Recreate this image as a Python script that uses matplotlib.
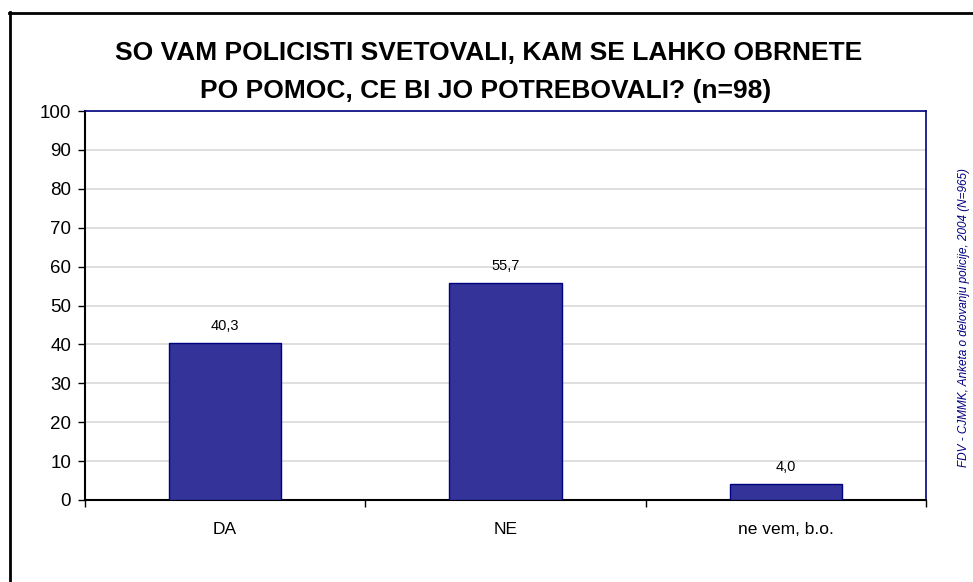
import matplotlib
matplotlib.use("Agg")
import matplotlib.pyplot as plt
import numpy as np
from matplotlib.lines import Line2D

categories = ["DA", "NE", "ne vem, b.o."]
values = [40.3, 55.7, 4.0]
value_labels = ["40,3", "55,7", "4,0"]
yticks = [0, 10, 20, 30, 40, 50, 60, 70, 80, 90, 100]

plt.rcParams['font.family'] = ['Liberation Sans', 'DejaVu Sans']

fig = plt.figure(figsize=(9.73, 5.82), dpi=100)
ax = fig.add_axes([85/973, 1-500/582, (926-85)/973, (500-111)/582])

x = np.arange(len(categories))
ax.bar(x, values, width=0.4, color="#333399", edgecolor="#000080", linewidth=1, zorder=3)
for xi, v, lab in zip(x, values, value_labels):
    ax.text(xi, v + 2.6, lab, ha="center", va="bottom", fontsize=10.5)

ax.set_xlim(-0.5, 2.5)
ax.set_ylim(0, 100)
ax.set_yticks(yticks)
ax.set_yticklabels([str(t) for t in yticks], fontsize=13.5)
ax.set_xticks(x)
ax.set_xticklabels(categories, fontsize=12.5)
ax.tick_params(axis='x', length=0, pad=16)
ax.set_xticks([-0.5, 0.5, 1.5, 2.5], minor=True)
ax.tick_params(axis='x', which='minor', length=5, width=1, direction='out', color='black')
ax.tick_params(axis='y', length=5, width=1, direction='out', pad=5)
ax.yaxis.grid(True, color="#d9d9d9", linewidth=1.2, zorder=0)
ax.set_axisbelow(True)
for s in ['left', 'bottom']:
    ax.spines[s].set_color('black')
    ax.spines[s].set_linewidth(1.5)
for s in ['top', 'right']:
    ax.spines[s].set_color('#000080')
    ax.spines[s].set_linewidth(1.2)

fig.text(489/973, 1-53/582, "SO VAM POLICISTI SVETOVALI, KAM SE LAHKO OBRNETE",
         ha="center", va="center", fontsize=19, fontweight="bold")
fig.text(486/973, 1-91/582, "PO POMOC, CE BI JO POTREBOVALI? (n=98)",
         ha="center", va="center", fontsize=19, fontweight="bold")

fig.text(964/973, 1-318/582, "FDV - CJMMK, Anketa o delovanju policije, 2004 (N=965)",
         rotation=90, ha="center", va="center", fontsize=8.5, style="italic", color="#000080")

# outer frame lines (left and top)
fig.add_artist(Line2D([10/973, 10/973], [0, 1-12/582], transform=fig.transFigure, color="black", linewidth=2))
fig.add_artist(Line2D([9/973, 1], [1-13/582, 1-13/582], transform=fig.transFigure, color="black", linewidth=2))

fig.savefig("out.png", dpi=100)
